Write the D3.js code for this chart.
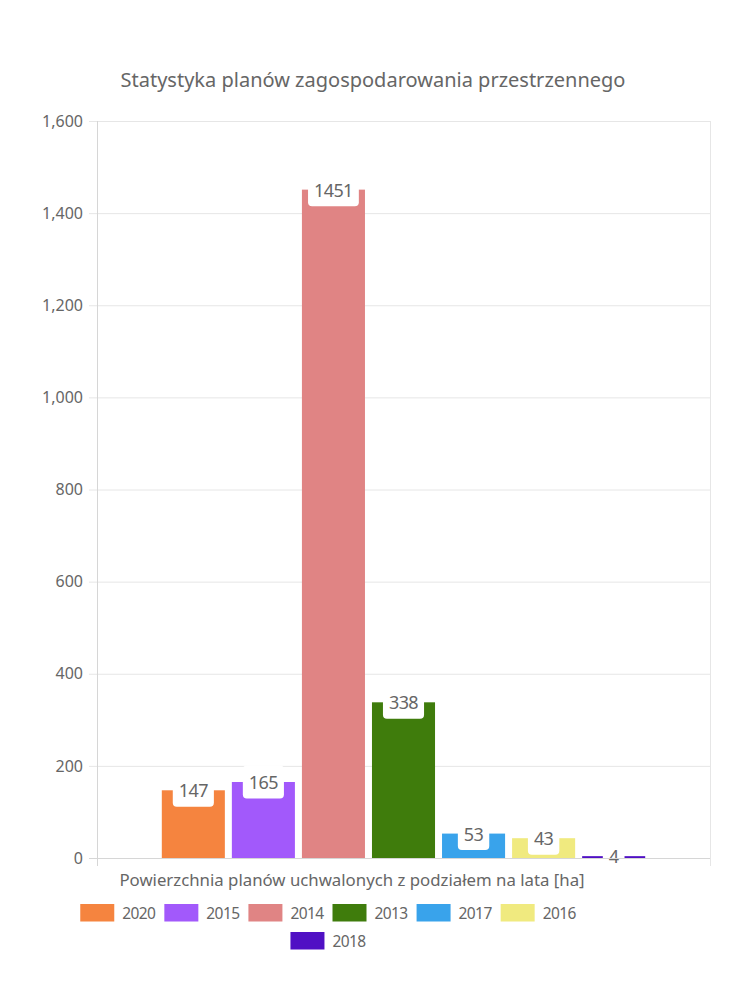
<!DOCTYPE html>
<html>
<head>
<meta charset="utf-8">
<script src="https://cdn.jsdelivr.net/npm/d3@7"></script>
<style>
  html, body { margin: 0; padding: 0; background: #fff; }
  svg { display: block; font-family: "Noto Sans", "Lato", sans-serif; }
</style>
</head>
<body>
<svg id="chart" width="750" height="1000"></svg>
<script>
// ---- data ----
const title = "Statystyka planów zagospodarowania przestrzennego";
const xTitle = "Powierzchnia planów uchwalonych z podziałem na lata [ha]";
const seriesNames = ["2020", "2015", "2014", "2013", "2017", "2016", "2018"];
const seriesValues = [147, 165, 1451, 338, 53, 43, 4];
const seriesColors = ["#f5843f", "#a259fb", "#e08484", "#3f7c0c", "#39a3eb", "#f0ea7f", "#5010c4"];
const yTicks = [0, 200, 400, 600, 800, 1000, 1200, 1400, 1600];

// ---- layout ----
const svg = d3.select("#chart");
const plot = { left: 97, right: 710, top: 121, bottom: 858 };
const textColor = "#666";

const y = d3.scaleLinear().domain([0, 1600]).range([plot.bottom, plot.top]);
const catW = plot.right - plot.left;
const x = d3.scaleBand()
  .domain(seriesNames)
  .range([plot.left + catW * 0.1, plot.right - catW * 0.1])
  .paddingInner(0.1)
  .paddingOuter(0.05);

// title
svg.append("text")
  .attr("x", 373).attr("y", 87)
  .attr("text-anchor", "middle")
  .attr("font-size", 20)
  .attr("fill", textColor)
  .text(title);

// gridlines + ticks
const yAxis = d3.axisLeft(y)
  .tickValues(yTicks)
  .tickSize(-(plot.right - plot.left))
  .tickPadding(14)
  .tickFormat(d3.format(","));
const gy = svg.append("g")
  .attr("transform", `translate(${plot.left},0)`)
  .call(yAxis);
gy.select(".domain").remove();
gy.selectAll(".tick line").attr("stroke", "#e6e6e6").attr("x1", -8);
gy.selectAll(".tick text")
  .attr("fill", textColor)
  .attr("font-size", 16)
  .attr("font-family", "Noto Sans, sans-serif");

// y axis line and right border
svg.append("line")
  .attr("x1", plot.left + 0.5).attr("x2", plot.left + 0.5)
  .attr("y1", plot.top).attr("y2", plot.bottom + 8)
  .attr("stroke", "#d6d6d6");
svg.append("line")
  .attr("x1", plot.right + 0.5).attr("x2", plot.right + 0.5)
  .attr("y1", plot.top).attr("y2", plot.bottom + 8)
  .attr("stroke", "#e6e6e6");

// bars
const data = seriesNames.map((n, i) => ({ name: n, value: seriesValues[i], color: seriesColors[i] }));
svg.append("g").selectAll("rect")
  .data(data)
  .join("rect")
  .attr("x", d => x(d.name))
  .attr("width", x.bandwidth())
  .attr("y", d => y(d.value))
  .attr("height", d => Math.max(2, y(0) - y(d.value)))
  .attr("fill", d => d.color);

// data labels
const lg = svg.append("g");
data.forEach(d => {
  const cx = x(d.name) + x.bandwidth() / 2;
  const cy = y(d.value);
  const g = lg.append("g");
  const rect = g.append("rect").attr("fill", "#fff").attr("rx", 4);
  const t = g.append("text")
    .attr("x", cx).attr("y", cy)
    .attr("text-anchor", "middle")
    .attr("dominant-baseline", "central")
    .attr("font-size", 18)
    .attr("letter-spacing", -0.6)
    .attr("fill", textColor)
    .text(d.value);
  const w = t.node().getComputedTextLength() + 12;
  const h = 33;
  rect.attr("x", cx - w / 2).attr("y", cy - h / 2).attr("width", w).attr("height", h);
});

// baseline (x axis)
svg.append("line")
  .attr("x1", plot.left - 8).attr("x2", plot.right)
  .attr("y1", plot.bottom + 0.5).attr("y2", plot.bottom + 0.5)
  .attr("stroke", "#d6d6d6");

// x axis title
svg.append("text")
  .attr("x", 352).attr("y", 886)
  .attr("text-anchor", "middle")
  .attr("font-size", 16.8)
  .attr("fill", textColor)
  .text(xTitle);

// legend
const legendRows = [seriesNames.slice(0, 6), seriesNames.slice(6)];
const rowY = [904, 932];
const legendCenter = 328;
const boxW = 34, boxH = 17.5, boxGap = 8, itemGap = 9;
const leg = svg.append("g");
legendRows.forEach((row, ri) => {
  const rg = leg.append("g");
  let cur = 0;
  row.forEach(name => {
    const i = seriesNames.indexOf(name);
    rg.append("rect")
      .attr("x", cur).attr("y", rowY[ri])
      .attr("width", boxW).attr("height", boxH)
      .attr("fill", seriesColors[i]);
    const t = rg.append("text")
      .attr("x", cur + boxW + boxGap).attr("y", rowY[ri] + boxH / 2)
      .attr("dominant-baseline", "central")
      .attr("font-size", 15.5)
      .attr("letter-spacing", -0.6)
      .attr("fill", textColor)
      .text(name);
    cur += boxW + boxGap + t.node().getComputedTextLength() + itemGap;
  });
  const total = cur - itemGap;
  rg.attr("transform", `translate(${legendCenter - total / 2},0)`);
});
</script>
</body>
</html>
